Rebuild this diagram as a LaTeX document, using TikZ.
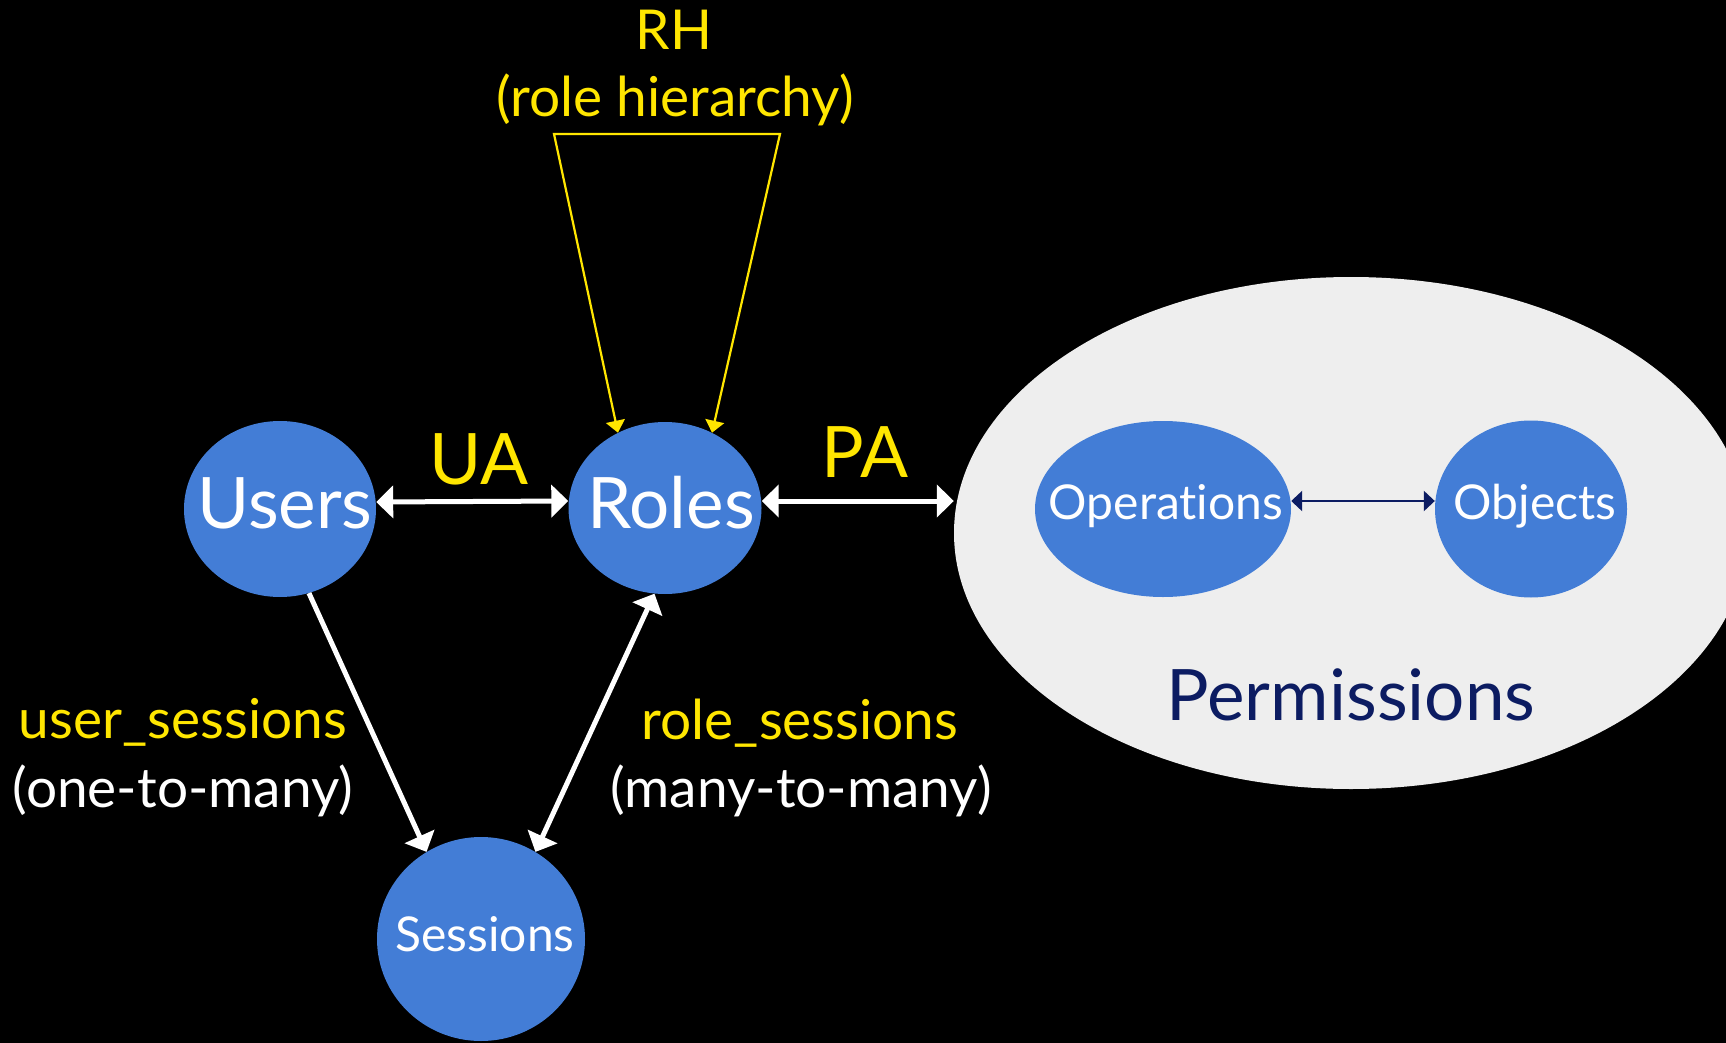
\documentclass[tikz,border=0pt]{standalone}
\usepackage{fontspec}
\setmainfont{Lato}[Ligatures=NoCommon]
\usetikzlibrary{arrows.meta,shapes.geometric}

\definecolor{nodeblue}{RGB}{67,125,214}
\definecolor{rbacyellow}{RGB}{255,230,0}
\definecolor{permgray}{RGB}{238,238,238}
\definecolor{permnavy}{RGB}{12,28,98}

\begin{document}
\begin{tikzpicture}[x=1pt,y=-1pt,
  blob/.style={ellipse, fill=nodeblue, inner sep=0pt},
  bigtext/.style={anchor=base, inner sep=0pt, font=\fontsize{71}{80}\selectfont},
  midtext/.style={anchor=base, inner sep=0pt, font=\fontsize{55}{62}\selectfont},
  smalltext/.style={anchor=base, inner sep=0pt, font=\fontsize{48}{56}\selectfont},
  whitetip/.tip={Triangle[length=17pt,width=32pt]},
  yellowtip/.tip={Triangle[length=12pt,width=19pt]},
  navytip/.tip={Triangle[length=11pt,width=20pt]},
  whitelink/.style={draw=white, line width=5pt},
  yellowlink/.style={draw=rbacyellow, line width=2.2pt, line join=miter},
  navylink/.style={draw=permnavy, line width=2.5pt}
]
\useasboundingbox (0,0) rectangle (1726,1043);
\clip (0,0) rectangle (1726,1043);
\fill[black] (0,0) rectangle (1726,1043);

% permission container
\node[ellipse, fill=permgray, inner sep=0pt, minimum width=794pt, minimum height=512pt] (perm) at (1351,533) {};

% entity ellipses
\node[blob, minimum width=192pt, minimum height=176pt] (users) at (280,509) {};
\node[blob, minimum width=193pt, minimum height=172pt] (roles) at (665,508) {};
\node[blob, minimum width=208pt, minimum height=204pt] (sessions) at (481,939) {};
\node[blob, minimum width=256pt, minimum height=176pt] (ops) at (1163,509) {};
\node[blob, minimum width=192pt, minimum height=177pt] (objs) at (1531,509) {};

% entity names
\node[bigtext, text=white] (userslabel) at (285,528) {Users};
\node[bigtext, text=white] (roleslabel) at (671,528) {Roles};
\node[smalltext, text=white] (sessionslabel) at (485,951) {Sessions};
\node[smalltext, text=white] (opslabel) at (1166,519) {Operations};
\node[smalltext, text=white] (objslabel) at (1535,519) {Objects};
\node[bigtext, text=permnavy] (permlabel) at (1351,720) {Permissions};

% relation names
\node[bigtext, text=rbacyellow] (ualabel) at (479,484) {UA};
\node[bigtext, text=rbacyellow] (palabel) at (865,477) {PA};
\node[midtext, text=rbacyellow] (rhlabel) at (674,50) {RH};
\node[midtext, text=rbacyellow] (rhnote) at (675,117) {(role hierarchy)};
\node[midtext, text=rbacyellow] (uslabel) at (183,738) {user\_sessions};
\node[midtext, text=white] (usnote) at (183,807) {(one-to-many)};
\node[midtext, text=rbacyellow] (rslabel) at (800,739) {role\_sessions};
\node[midtext, text=white] (rsnote) at (801,807) {(many-to-many)};

% connectors
\draw[whitelink, whitetip-whitetip] ([yshift=7pt]users.east) -- ([yshift=7pt]roles.west);
\draw[whitelink, whitetip-whitetip] ([yshift=7pt]roles.east) -- ([yshift=7pt]roles.east -| perm.west);
\draw[navylink, navytip-navytip] ([yshift=8pt]ops.east) -- ([yshift=8pt]objs.west);
\draw[whitelink, -whitetip] (users.-71) -- (sessions.122);
\draw[whitelink, whitetip-whitetip] (roles.-97) -- (sessions.58);

% role hierarchy bracket
\coordinate (rhleft) at (554,134);
\coordinate (rhright) at (780,134);
\draw[yellowlink, yellowtip-yellowtip] (roles.122) -- (rhleft) -- (rhright) -- (roles.58);
\end{tikzpicture}
\end{document}
